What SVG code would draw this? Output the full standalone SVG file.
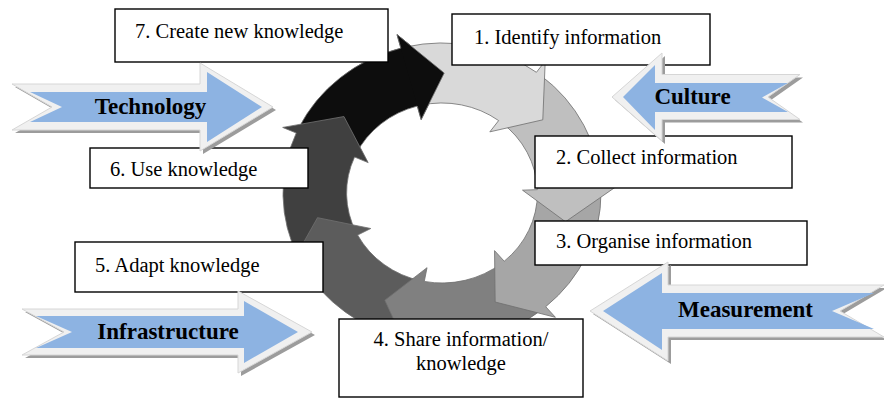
<svg xmlns="http://www.w3.org/2000/svg" width="884" height="398" viewBox="0 0 884 398">
<style>
.seg{stroke:#707070;stroke-width:0.8;stroke-linejoin:miter}
.box{fill:#ffffff;stroke:#000000;stroke-width:1.4}
.shadow{fill:#9c9c9c}
.rim{fill:#f0f0f0;stroke:#d6d6d6;stroke-width:1}
.blue{fill:#8db3e2}
</style>
<rect width="884" height="398" fill="#ffffff"/>
<g id="connectors" transform="translate(442,193) scale(1.06,1)">
<path id="arrow7" class="seg" fill="#0d0d0d" d="M -135.39 -64.58 A150 150 0 0 1 -38.82 -144.89 L -42.45 -158.41 L 2.09 -119.98 L -19.67 -73.41 L -23.29 -86.93 A90 90 0 0 0 -81.23 -38.75 Z"/>
<path id="arrow6" class="seg" fill="#404040" d="M -134.91 65.60 A150 150 0 0 1 -137.49 -59.99 L -150.32 -65.58 L -92.50 -76.46 L -69.66 -30.39 L -82.49 -35.99 A90 90 0 0 0 -80.95 39.36 Z"/>
<path id="arrow5" class="seg" fill="#5c5c5c" d="M -32.82 146.37 A150 150 0 0 1 -132.62 70.10 L -145.00 76.64 L -117.44 24.66 L -67.19 35.51 L -79.57 42.06 A90 90 0 0 0 -19.69 87.82 Z"/>
<path id="arrow4" class="seg" fill="#808080" d="M 93.96 116.93 A150 150 0 0 1 -27.87 147.39 L -30.47 161.15 L -53.93 107.20 L -14.12 74.68 L -16.72 88.43 A90 90 0 0 0 56.38 70.16 Z"/>
<path id="arrow3" class="seg" fill="#a6a6a6" d="M 150.00 -0.55 A150 150 0 0 1 97.85 113.70 L 106.98 124.31 L 50.16 109.02 L 49.57 57.61 L 58.71 68.22 A90 90 0 0 0 90.00 -0.33 Z"/>
<path id="arrow2" class="seg" fill="#bfbfbf" d="M 93.09 -117.62 A150 150 0 0 1 149.90 -5.60 L 163.89 -6.12 L 116.51 28.75 L 75.95 -2.84 L 89.94 -3.36 A90 90 0 0 0 55.85 -70.57 Z"/>
<path id="arrow1" class="seg" fill="#d9d9d9" d="M -33.92 -146.12 A150 150 0 0 1 89.07 -120.69 L 97.38 -131.95 L 95.09 -73.20 L 45.13 -61.15 L 53.44 -72.41 A90 90 0 0 0 -20.35 -87.67 Z"/>
<path fill="#0d0d0d" d="M -38.82 -144.89 L -42.45 -158.41 L 2.09 -119.98 L -19.67 -73.41 L -23.29 -86.93 Z"/>
<path class="seg" fill="none" d="M -38.82 -144.89 L -42.45 -158.41 L 2.09 -119.98 L -19.67 -73.41 L -23.29 -86.93"/>
</g>
<g font-family="Liberation Serif, Times New Roman, serif" font-size="20.5" fill="#000000">
<g id="node7"><rect class="box" x="115" y="9" width="273" height="53"/><text x="135" y="38">7. Create new knowledge</text></g>
<g id="node1"><rect class="box" x="452" y="14" width="258" height="51"/><text x="474" y="44">1. Identify information</text></g>
<g id="node2"><rect class="box" x="535" y="136" width="257" height="52"/><text x="556" y="164">2. Collect information</text></g>
<g id="node3"><rect class="box" x="535" y="221" width="272" height="44"/><text x="556" y="248">3. Organise information</text></g>
<g id="node4"><rect class="box" x="339" y="319" width="244" height="78"/><text x="461" y="346" text-anchor="middle">4. Share information/</text><text x="461" y="370" text-anchor="middle">knowledge</text></g>
<g id="node5"><rect class="box" x="75" y="242" width="248" height="50"/><text x="95" y="272">5. Adapt knowledge</text></g>
<g id="node6"><rect class="box" x="90" y="148" width="218" height="40"/><text x="110" y="176">6. Use knowledge</text></g>
</g>
<g font-family="Liberation Serif, Times New Roman, serif" font-size="23" font-weight="bold" fill="#000000" text-anchor="middle">
<g id="technology">
<polygon class="shadow" points="15,87 203,87 203,66 276,110 203,154 203,133 15,133 55,110"/>
<polygon class="rim" points="12,84 200,84 200,63 273,107 200,151 200,130 12,130 52,107"/>
<polygon class="blue" points="30,92 207,92 207,72 262,107 207,142 207,122 30,122 62,107"/>
<text x="150.5" y="114">Technology</text>
</g>
<g id="culture">
<polygon class="shadow" points="615,100 665,56 665,77.5 803,77.5 771,100 803,122.5 665,122.5 665,144"/>
<polygon class="rim" points="612,97 662,53 662,74.5 800,74.5 768,97 800,119.5 662,119.5 662,141"/>
<polygon class="blue" points="623,97 655,65 655,83 788,83 762,97.5 788,112 655,112 655,130"/>
<text x="692.5" y="104">Culture</text>
</g>
<g id="measurement">
<polygon class="shadow" points="593,314 671,265 671,288 887,288 843,314 887,340 671,340 671,364"/>
<polygon class="rim" points="590,311 668,262 668,285 884,285 840,311 884,337 668,337 668,361"/>
<polygon class="blue" points="603,311 662,273 662,293 874,293 832,311 874,329 662,329 662,350"/>
<text x="745.5" y="317">Measurement</text>
</g>
<g id="infrastructure">
<polygon class="shadow" points="25,312 241,312 241,294 315,335 241,376 241,358 25,358 67,335"/>
<polygon class="rim" points="22,309 238,309 238,291 312,332 238,373 238,355 22,355 64,332"/>
<polygon class="blue" points="36,316 244,316 244,301 298,332 244,363 244,348 36,348 72,332"/>
<text x="168" y="339">Infrastructure</text>
</g>
</g>
</svg>
